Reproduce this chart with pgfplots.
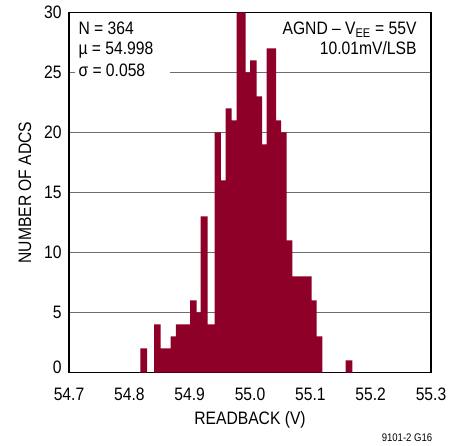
\documentclass[border=0pt]{standalone}
\usepackage{fontspec}
\setmainfont{Liberation Sans}[FakeStretch=0.87]
\usepackage{pgfplots}
\pgfplotsset{compat=1.18}
\definecolor{barred}{RGB}{142,0,40}
\definecolor{gridgray}{RGB}{110,110,110}
\newcommand\ff{\fontsize{18bp}{21bp}\selectfont}
\begin{document}
\begin{tikzpicture}
\path[use as bounding box, fill=white] (0,0) rectangle (458bp,446bp);
\begin{axis}[
  at={(69bp,73.5bp)}, anchor=south west,
  scale only axis, width=362bp, height=360bp,
  xmin=54.7, xmax=55.3, ymin=0, ymax=30,
  xtick={54.7,54.8,54.9,55.0,55.1,55.2,55.3},
  xticklabels={54.7,54.8,54.9,55.0,55.1,55.2,55.3},
  ytick={0,5,10,15,20,25,30},
  yticklabels={\raisebox{10bp}{0},5,10,15,20,25,30},
  ymajorgrids, grid style={gridgray, line width=0.9bp},
  tick style={draw=none},
  axis line style={line width=1.3bp, black},
  ticklabel style={font=\ff},
  xticklabel style={yshift=-12bp},
  yticklabel style={xshift=-4bp},
  xlabel={READBACK (V)},
  xlabel style={font=\ff, at={(axis description cs:0.5,0)}, anchor=base, yshift=-51.5bp},
]
\addplot[ybar interval, fill=barred, draw=none] coordinates {
(54.8182,2) (54.8293,0) (54.8409,4) (54.8520,2) (54.8686,3) (54.8773,4)
(54.9006,6) (54.9117,5) (54.9183,13) (54.9299,4) (54.9415,20) (54.9519,16)
(54.9597,22) (54.9697,21) (54.9780,30) (54.9929,25) (55.0000,26) (55.0111,23)
(55.0199,19) (55.0277,27) (55.0431,21) (55.0514,20) (55.0608,11) (55.0701,8)
(55.1023,6) (55.1106,3) (55.1198,0) (55.1586,1) (55.1696,0)
};
\end{axis}
\fill[white] (75bp,366bp) rectangle (170bp,380bp);
\node[font=\ff, anchor=base west, inner sep=0pt] at (78.3bp,411bp) {N = 364};
\node[font=\ff, anchor=base west, inner sep=0pt] at (78.3bp,391bp) {µ = 54.998};
\node[font=\ff, anchor=base west, inner sep=0pt] at (78.3bp,369.3bp) {σ = 0.058};
\node[font=\ff, anchor=base east, inner sep=0pt] at (416.7bp,411bp) {AGND -- V\textsubscript{EE} = 55V};
\node[font=\ff, anchor=base east, inner sep=0pt] at (416.7bp,391bp) {10.01mV/LSB};
\node[font=\ff, anchor=base, rotate=90, inner sep=0pt] at (31bp,253.5bp) {NUMBER OF ADCS};
\node[font=\fontsize{11bp}{13bp}\selectfont, anchor=base east, inner sep=0pt] at (432.5bp,4.5bp) {9101-2 G16};
\end{tikzpicture}
\end{document}
